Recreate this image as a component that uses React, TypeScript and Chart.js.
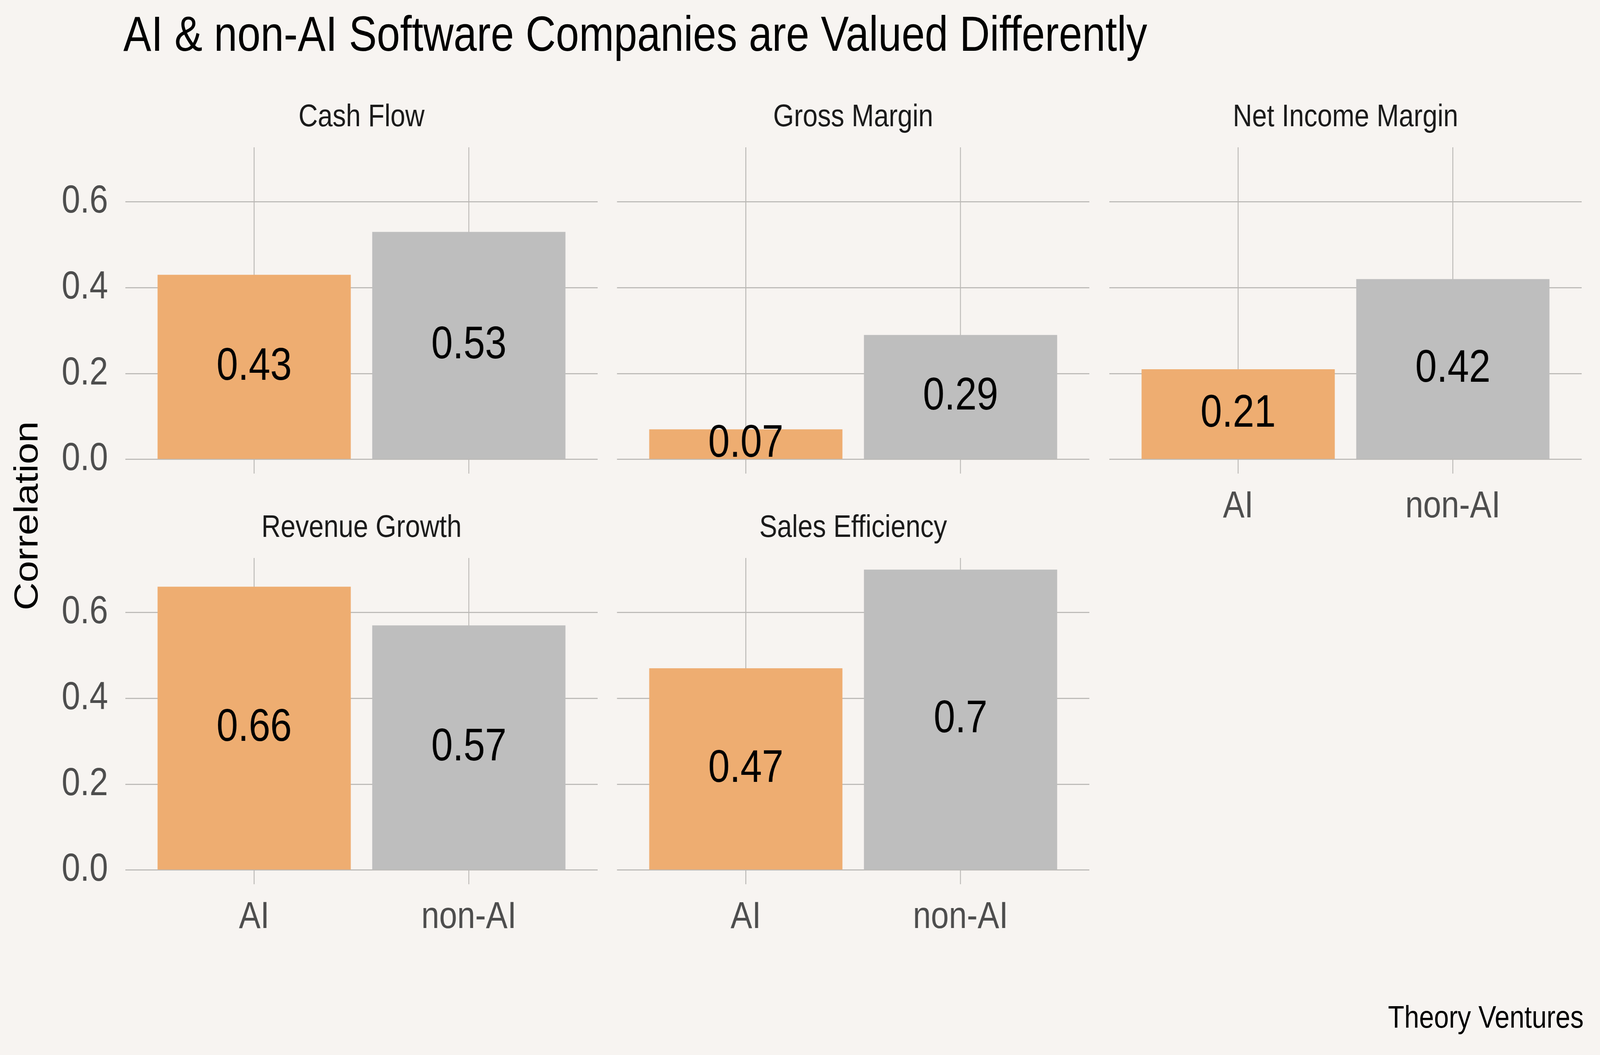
import React, { useEffect, useRef } from "react";
import { Chart, registerables } from "chart.js";

Chart.register(...registerables);

// ---- data ----
const metrics = ["Cash Flow", "Gross Margin", "Net Income Margin", "Revenue Growth", "Sales Efficiency"];
const groups = ["AI", "non-AI"];
const groupPositions = [1, 2];
const aiValues = [0.43, 0.07, 0.21, 0.66, 0.47];
const nonAiValues = [0.53, 0.29, 0.42, 0.57, 0.7];
const yTicks = [0, 0.2, 0.4, 0.6];

const TITLE = "AI & non-AI Software Companies are Valued Differently";
const Y_LABEL = "Correlation";
const CAPTION = "Theory Ventures";

// ---- style ----
const FONT = "'Liberation Sans', Arial, sans-serif";
const BG = "#F7F4F1";
const GRID = "#BAB8B5";
const AXIS_TEXT = "#4D4D4D";
const BAR_COLORS = ["#EEAD71", "#BEBEBE"];

const DESIGN_W = 4800;
const DESIGN_H = 2700;
const COL_LEFT = [376, 1851, 3328];
const ROW_TOP = [377, 1428];
const PANEL_W = 1417;
const PANEL_H = 835;
const STRIP_SPACE = 150;
const Y_AXIS_W = 376;
const X_AXIS_H = 170;

function getScale() {
  if (typeof window === "undefined") return { sx: 1, sy: 1 };
  document.documentElement.style.overflow = "hidden";
  document.body.style.margin = "0";
  document.body.style.overflow = "hidden";
  document.body.style.background = BG;
  const w = window.innerWidth || DESIGN_W;
  const h = window.innerHeight || DESIGN_H;
  return { sx: w / DESIGN_W, sy: h / DESIGN_H };
}

function Panel({ index, dpr }: { index: number; dpr: number }) {
  const ref = useRef<HTMLCanvasElement>(null);
  const col = index % 3;
  const row = Math.floor(index / 3);
  const showY = col === 0;
  const showX = index + 3 >= metrics.length;
  const leftW = showY ? Y_AXIS_W : 0;
  const bottomH = showX ? X_AXIS_H : 0;
  const w = leftW + PANEL_W;
  const h = STRIP_SPACE + PANEL_H + bottomH;
  const left = COL_LEFT[col] - leftW;
  const top = ROW_TOP[row] - STRIP_SPACE;

  useEffect(() => {
    const values = [aiValues[index], nonAiValues[index]];
    const title = metrics[index];
    const textPlugin = {
      id: "panelText",
      afterDatasetsDraw(chart: any) {
        const ctx = chart.ctx;
        const ys = chart.scales.y;
        const area = chart.chartArea;
        ctx.save();
        ctx.fillStyle = "#000000";
        ctx.font = `116px ${FONT}`;
        ctx.textAlign = "center";
        ctx.textBaseline = "middle";
        const meta = chart.getDatasetMeta(0);
        meta.data.forEach((bar: any, i: number) => {
          ctx.fillText(String(values[i]), bar.x, ys.getPixelForValue(values[i] / 2));
        });
        ctx.fillStyle = "#1A1A1A";
        ctx.font = `80px ${FONT}`;
        ctx.textBaseline = "alphabetic";
        ctx.fillText(title, (area.left + area.right) / 2, area.top - 54);
        ctx.restore();
      },
    };
    const zeroPad = (s: any) => {
      s.paddingLeft = 0;
      s.paddingRight = 0;
      s.paddingTop = 0;
      s.paddingBottom = 0;
    };
    const chart = new Chart(ref.current as HTMLCanvasElement, {
      type: "bar",
      data: {
        datasets: [
          {
            data: groupPositions.map((x, i) => ({ x, y: values[i] })),
            backgroundColor: BAR_COLORS,
            borderWidth: 0,
            categoryPercentage: 1,
            barPercentage: 0.9,
          } as any,
        ],
      },
      options: {
        animation: false,
        responsive: false,
        devicePixelRatio: dpr,
        events: [],
        layout: { padding: { top: STRIP_SPACE, left: 0, right: 0, bottom: 0 } },
        plugins: {
          legend: { display: false },
          tooltip: { enabled: false },
          title: { display: false },
        },
        scales: {
          x: {
            type: "linear",
            min: 0.4,
            max: 2.6,
            offset: false,
            grid: { offset: false, color: GRID, lineWidth: 2.7, drawTicks: false },
            border: { display: false },
            ticks: {
              display: showX,
              padding: 27,
              color: AXIS_TEXT,
              autoSkip: false,
              maxRotation: 0,
              font: { size: 97, family: FONT },
              callback: (v: any) => groups[groupPositions.indexOf(Number(v))] ?? "",
            },
            afterBuildTicks: (s: any) => {
              s.ticks = groupPositions.map((v) => ({ value: v }));
            },
            afterFit: (s: any) => {
              s.height = bottomH;
              zeroPad(s);
            },
          } as any,
          y: {
            type: "linear",
            min: -0.033,
            max: 0.727,
            grid: { color: GRID, lineWidth: 2.7, drawTicks: false },
            border: { display: false },
            ticks: {
              display: showY,
              padding: 52,
              color: AXIS_TEXT,
              font: { size: 100, family: FONT },
              callback: (v: any) => Number(v).toFixed(1),
            },
            afterBuildTicks: (s: any) => {
              s.ticks = yTicks.map((v) => ({ value: v }));
            },
            afterFit: (s: any) => {
              s.width = leftW;
              zeroPad(s);
            },
          } as any,
        },
      },
      plugins: [textPlugin],
    });
    return () => chart.destroy();
  }, []);

  return (
    <canvas
      ref={ref}
      width={w}
      height={h}
      style={{ position: "absolute", left, top, width: w, height: h }}
    />
  );
}

export default function App() {
  const { sx, sy } = getScale();
  const dpr = (typeof window !== "undefined" ? window.devicePixelRatio || 1 : 1) * Math.max(sx, sy);
  return (
    <div
      style={{
        position: "relative",
        width: DESIGN_W * sx,
        height: DESIGN_H * sy,
        overflow: "hidden",
        background: BG,
      }}
    >
      <div
        style={{
          position: "absolute",
          left: 0,
          top: 0,
          width: DESIGN_W,
          height: DESIGN_H,
          background: BG,
          fontFamily: FONT,
          transform: `scale(${sx}, ${sy})`,
          transformOrigin: "0 0",
        }}
      >
        <div
          style={{
            position: "absolute",
            left: 370,
            top: 24,
            fontSize: 125.5,
            lineHeight: 1,
            whiteSpace: "nowrap",
            color: "#000",
          }}
        >
          {TITLE}
        </div>
        <div
          style={{
            position: "absolute",
            left: 78,
            top: 1320,
            fontSize: 99,
            lineHeight: 1,
            whiteSpace: "nowrap",
            color: "#000",
            transform: "translate(-50%, -50%) rotate(-90deg)",
          }}
        >
          {Y_LABEL}
        </div>
        {metrics.map((_, i) => (
          <Panel key={i} index={i} dpr={dpr} />
        ))}
        <div
          style={{
            position: "absolute",
            right: 49,
            top: 2563,
            fontSize: 80,
            lineHeight: 1,
            whiteSpace: "nowrap",
            color: "#000",
            textAlign: "right",
          }}
        >
          {CAPTION}
        </div>
      </div>
    </div>
  );
}
